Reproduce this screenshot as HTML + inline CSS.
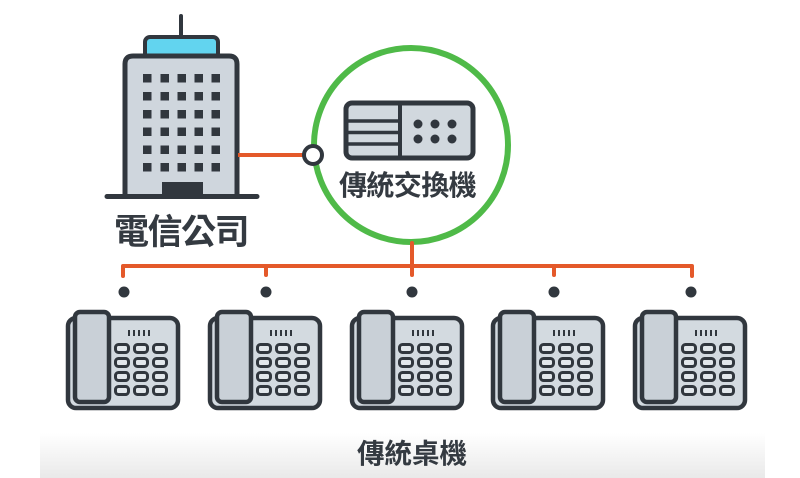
<!DOCTYPE html>
<html><head><meta charset="utf-8"><style>
html,body{margin:0;padding:0;background:#fff;}
svg{display:block;}
text{font-family:"Liberation Sans","Noto Sans CJK TC","Noto Sans CJK SC",sans-serif;font-weight:bold;fill:#343a41;}
</style></head><body>
<svg width="800" height="478" viewBox="0 0 800 478" xmlns="http://www.w3.org/2000/svg">
<defs>
<linearGradient id="band" x1="0" y1="0" x2="0" y2="1">
<stop offset="0" stop-color="#ffffff"/><stop offset="1" stop-color="#e9e9e9"/>
</linearGradient>
<g id="phone">
<rect x="0" y="318" width="110" height="90" rx="8" fill="#d3dae0" stroke="#31373e" stroke-width="4.5"/>
<rect x="7" y="312" width="34" height="90" rx="5" fill="#c9d0d7" stroke="#31373e" stroke-width="4.5"/>
<g stroke="#31373e" stroke-width="2">
<line x1="61" y1="330" x2="61" y2="336"/><line x1="66" y1="330" x2="66" y2="336"/><line x1="71" y1="330" x2="71" y2="336"/><line x1="76" y1="330" x2="76" y2="336"/><line x1="81" y1="330" x2="81" y2="336"/>
</g>
<g fill="#e2e7eb" stroke="#31373e" stroke-width="3">
<rect x="47.5" y="344.5" width="13" height="8" rx="3"/><rect x="66.5" y="344.5" width="13" height="8" rx="3"/><rect x="85.5" y="344.5" width="13" height="8" rx="3"/>
<rect x="47.5" y="358.5" width="13" height="8" rx="3"/><rect x="66.5" y="358.5" width="13" height="8" rx="3"/><rect x="85.5" y="358.5" width="13" height="8" rx="3"/>
<rect x="47.5" y="372.5" width="13" height="8" rx="3"/><rect x="66.5" y="372.5" width="13" height="8" rx="3"/><rect x="85.5" y="372.5" width="13" height="8" rx="3"/>
<rect x="47.5" y="386.5" width="13" height="8" rx="3"/><rect x="66.5" y="386.5" width="13" height="8" rx="3"/><rect x="85.5" y="386.5" width="13" height="8" rx="3"/>
</g>
</g>
</defs>

<rect x="40" y="433" width="725" height="45" fill="url(#band)"/>

<!-- building -->
<line x1="181" y1="16" x2="181" y2="40" stroke="#31373e" stroke-width="4" stroke-linecap="round"/>
<rect x="145" y="37" width="73" height="22" rx="5" fill="#62d4ef" stroke="#31373e" stroke-width="4"/>
<path d="M125,197 V64 Q125,56 133,56 H229 Q237,56 237,64 V197" fill="#cfd6dd" stroke="#31373e" stroke-width="5"/>
<g fill="#31373e">
<rect x="143" y="74" width="8.5" height="8.5"/><rect x="160.5" y="74" width="8.5" height="8.5"/><rect x="177.5" y="74" width="8.5" height="8.5"/><rect x="194.5" y="74" width="8.5" height="8.5"/><rect x="211.5" y="74" width="8.5" height="8.5"/>
<rect x="143" y="92" width="8.5" height="8.5"/><rect x="160.5" y="92" width="8.5" height="8.5"/><rect x="177.5" y="92" width="8.5" height="8.5"/><rect x="194.5" y="92" width="8.5" height="8.5"/><rect x="211.5" y="92" width="8.5" height="8.5"/>
<rect x="143" y="110" width="8.5" height="8.5"/><rect x="160.5" y="110" width="8.5" height="8.5"/><rect x="177.5" y="110" width="8.5" height="8.5"/><rect x="194.5" y="110" width="8.5" height="8.5"/><rect x="211.5" y="110" width="8.5" height="8.5"/>
<rect x="143" y="127.5" width="8.5" height="8.5"/><rect x="160.5" y="127.5" width="8.5" height="8.5"/><rect x="177.5" y="127.5" width="8.5" height="8.5"/><rect x="194.5" y="127.5" width="8.5" height="8.5"/><rect x="211.5" y="127.5" width="8.5" height="8.5"/>
<rect x="143" y="145.5" width="8.5" height="8.5"/><rect x="160.5" y="145.5" width="8.5" height="8.5"/><rect x="177.5" y="145.5" width="8.5" height="8.5"/><rect x="194.5" y="145.5" width="8.5" height="8.5"/><rect x="211.5" y="145.5" width="8.5" height="8.5"/>
<rect x="143" y="163" width="8.5" height="8.5"/><rect x="160.5" y="163" width="8.5" height="8.5"/><rect x="177.5" y="163" width="8.5" height="8.5"/><rect x="194.5" y="163" width="8.5" height="8.5"/><rect x="211.5" y="163" width="8.5" height="8.5"/>
<rect x="162" y="182" width="41" height="15"/>
</g>
<line x1="107" y1="196.5" x2="257" y2="196.5" stroke="#31373e" stroke-width="5" stroke-linecap="round"/>
<text x="114" y="244" font-size="35" letter-spacing="-1.5">電信公司</text>

<!-- connection building to switch -->
<line x1="238" y1="155" x2="304" y2="155" stroke="#e4592a" stroke-width="4"/>

<!-- switch circle -->
<circle cx="411" cy="145" r="97" fill="#fff" stroke="#4fba48" stroke-width="6"/>
<circle cx="313" cy="155" r="9" fill="#fff" stroke="#31373e" stroke-width="4"/>
<rect x="346" y="103" width="127" height="55" rx="6" fill="#d1d8de" stroke="#31373e" stroke-width="5"/>
<line x1="400" y1="103" x2="400" y2="158" stroke="#31373e" stroke-width="4"/>
<g stroke="#31373e" stroke-width="3.5">
<line x1="346" y1="121" x2="400" y2="121"/><line x1="346" y1="132.5" x2="400" y2="132.5"/><line x1="346" y1="144" x2="400" y2="144"/>
</g>
<g fill="#31373e">
<circle cx="418" cy="124" r="4.5"/><circle cx="435" cy="124" r="4.5"/><circle cx="452" cy="124" r="4.5"/>
<circle cx="418" cy="139" r="4.5"/><circle cx="435" cy="139" r="4.5"/><circle cx="452" cy="139" r="4.5"/>
</g>
<text x="339" y="195" font-size="28" letter-spacing="-0.6">傳統交換機</text>

<!-- bus -->
<g stroke="#e4592a" stroke-width="4" fill="none" stroke-linecap="round" stroke-linejoin="round">
<line x1="412" y1="243" x2="412" y2="275"/>
<path d="M123,276 V266 H692 V276"/>
<line x1="266" y1="266" x2="266" y2="275"/>
<line x1="554" y1="266" x2="554" y2="275"/>
</g>
<g fill="#31373e">
<circle cx="124" cy="292" r="5.5"/><circle cx="266" cy="292" r="5.5"/><circle cx="412" cy="292" r="5.5"/><circle cx="554" cy="292" r="5.5"/><circle cx="691" cy="292" r="5.5"/>
</g>

<!-- phones -->
<use href="#phone" transform="translate(68,0)"/>
<use href="#phone" transform="translate(210,0)"/>
<use href="#phone" transform="translate(352,0)"/>
<use href="#phone" transform="translate(493,0)"/>
<use href="#phone" transform="translate(635,0)"/>

<text x="357" y="463" font-size="27.5" letter-spacing="0">傳統桌機</text>
</svg>
</body></html>
